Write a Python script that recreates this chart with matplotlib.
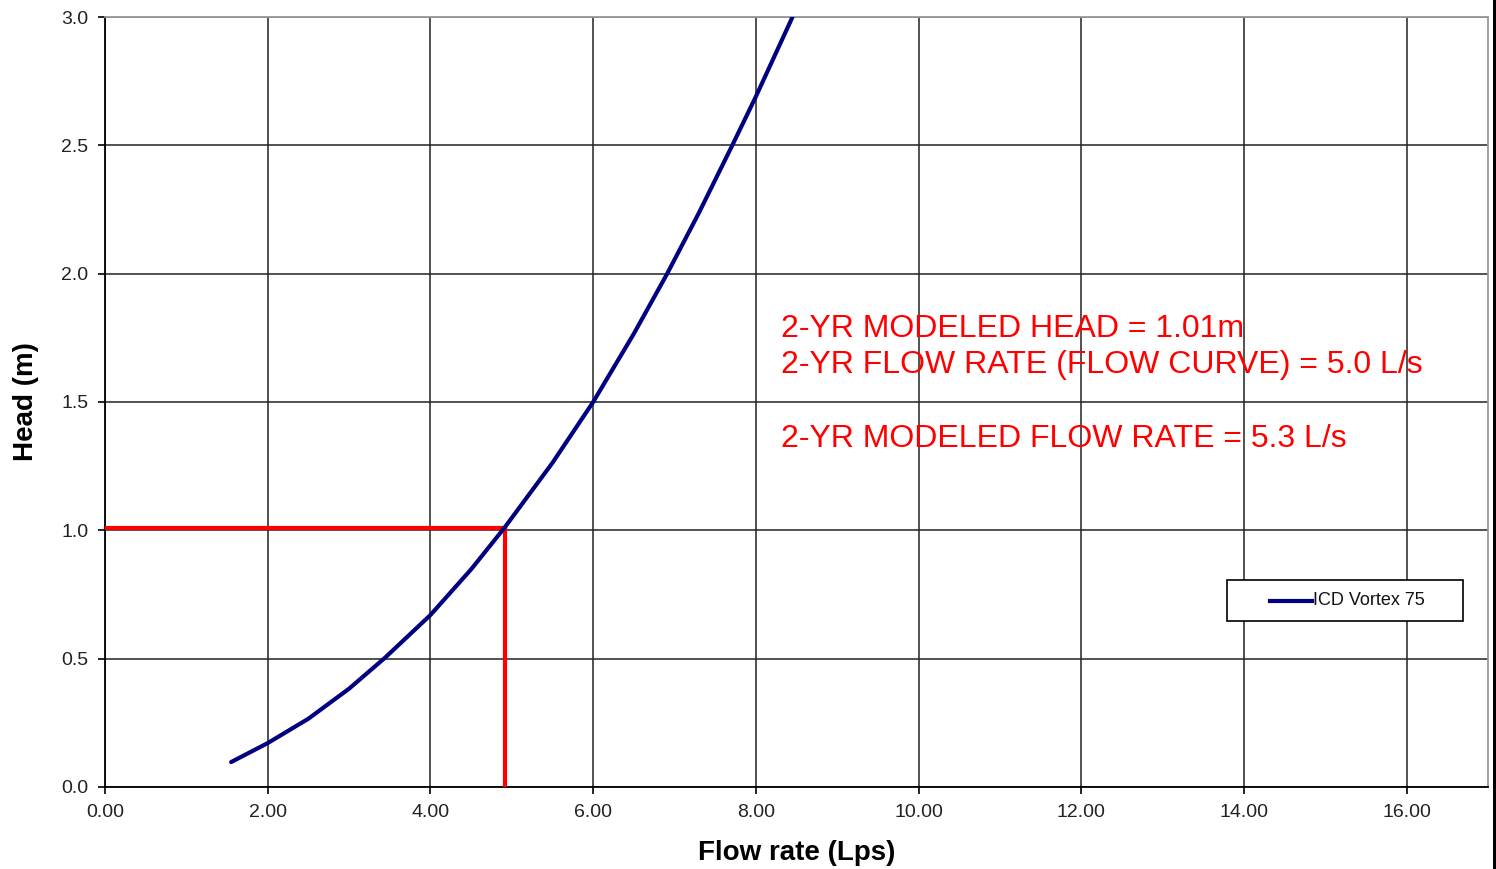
import matplotlib
matplotlib.use("Agg")
import matplotlib.pyplot as plt
from matplotlib.patches import Rectangle
from matplotlib.lines import Line2D

plt.rcParams['font.family'] = ['Liberation Sans', 'DejaVu Sans']

# Curva ICD Vortex 75
caudal = [1.55, 2.00, 2.50, 3.00, 3.44, 4.00, 4.50, 4.91, 5.50, 6.00,
          6.50, 6.91, 7.30, 7.71, 8.00, 8.45]
carga = [0.097, 0.171, 0.266, 0.383, 0.503, 0.670, 0.848, 1.010, 1.263, 1.500,
         1.766, 2.000, 2.237, 2.500, 2.690, 3.000]

# Punto de diseno 2 anos
caudal_2yr = 4.92
carga_2yr = 1.01

textos = ["2-YR MODELED HEAD = 1.01m",
          "2-YR FLOW RATE (FLOW CURVE) = 5.0 L/s",
          "2-YR MODELED FLOW RATE = 5.3 L/s"]
y_textos = [1.753, 1.613, 1.325]

xticks = [0, 2, 4, 6, 8, 10, 12, 14, 16]
yticks = [0.0, 0.5, 1.0, 1.5, 2.0, 2.5, 3.0]

fig = plt.figure(figsize=(14.96, 8.69), dpi=100)
ax = fig.add_axes([0.0702, 0.0944, 0.9245, 0.886])

ax.plot(caudal, carga, color='#000080', lw=3, solid_capstyle='round',
        solid_joinstyle='round', zorder=4)
ax.plot([0, caudal_2yr], [carga_2yr, carga_2yr], color='#ff0000', lw=3, zorder=3)
ax.plot([caudal_2yr, caudal_2yr], [0, carga_2yr], color='#ff0000', lw=3, zorder=3)

for t, y in zip(textos, y_textos):
  ax.text(8.31, y, t, color='#ff0000', fontsize=23, va='baseline', ha='left', zorder=5)

ax.set_xlim(0, 17)
ax.set_ylim(0, 3.0)
ax.set_xticks(xticks)
ax.set_xticklabels([f"{v:.2f}" for v in xticks])
ax.set_yticks(yticks)
ax.set_yticklabels([f"{v:.1f}" for v in yticks])
ax.tick_params(direction='out', length=5, width=1.2, labelsize=14, labelcolor='#222222', pad=7)
ax.grid(True, color='#222222', lw=1.1)
ax.set_axisbelow(True)

for s in ['left', 'bottom']:
  ax.spines[s].set_color('black')
  ax.spines[s].set_linewidth(1.3)
for s in ['top', 'right']:
  ax.spines[s].set_color('#999999')
  ax.spines[s].set_linewidth(1.3)

ax.set_xlabel("Flow rate (Lps)", fontsize=20, fontweight='bold', labelpad=14)
ax.set_ylabel("Head (m)", fontsize=20, fontweight='bold', labelpad=16)

# Leyenda
ax.add_patch(Rectangle((0.811, 0.2156), 0.171, 0.0532, transform=ax.transAxes,
                       facecolor='white', edgecolor='black', lw=1.2, zorder=6))
ax.add_line(Line2D([0.8424, 0.8727], [0.2416, 0.2416], transform=ax.transAxes,
                   color='#000080', lw=3, zorder=7))
ax.text(0.8735, 0.2416, "ICD Vortex 75", transform=ax.transAxes, fontsize=13,
        va='center', ha='left', color='#111111', zorder=7)

fig.add_artist(Rectangle((0.998, 0), 0.002, 1, transform=fig.transFigure,
                         facecolor='black', edgecolor='none'))

fig.savefig("out.png", dpi=100)
